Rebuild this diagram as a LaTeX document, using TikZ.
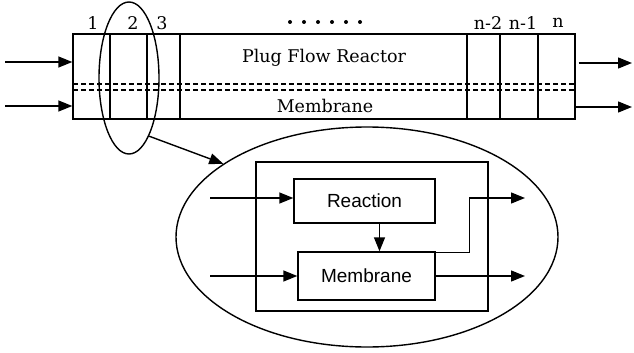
\documentclass[tikz,border=0pt]{standalone}
\usepackage{fontspec}
\setmainfont{DejaVu Serif}
\newfontfamily\arialf{Liberation Sans}
\usetikzlibrary{arrows.meta,shapes.geometric}
\begin{document}
\begin{tikzpicture}[x=1pt,y=-1pt, line width=1.4pt,
 arr/.style={-{Triangle[length=14pt,width=11pt]}},
 lab/.style={font=\fontsize{17.5}{17.5}\selectfont, inner sep=0pt},
 blk/.style={draw, font=\arialf\fontsize{19}{19}\selectfont, inner sep=0pt},
 memline/.style={dash pattern=on 5pt off 3pt, line width=1.5pt}]
\useasboundingbox (0,0) rectangle (634,353);
% plug flow reactor
\node[draw, minimum width=502pt, minimum height=85pt, inner sep=0pt] (pfr) at (324,76.5) {};
\foreach \xx in {110,147,180,467,500,538} \draw (\xx,34) -- (\xx,119);
\draw[memline] (73,84) -- (575,84);
\draw[memline] (73,90) -- (575,90);
\node[lab] (t1) at (93,23) {1};
\node[lab] (t2) at (133,23) {2};
\node[lab] (t3) at (162,23) {3};
\node[lab] (tn2) at (488,23) {n-2};
\node[lab] (tn1) at (523,23) {n-1};
\node[lab] (tn) at (558,23) {n};
\foreach \xx in {290,304,318,332,346,360} \fill (\xx,22) circle (2pt);
\node[lab] (pfrlab) at (324,58) {Plug Flow Reactor};
\node[lab] (memlab) at (325,106) {Membrane};
% in/out arrows
\coordinate (in1) at (5,62);
\coordinate (in2) at (5,106);
\coordinate (out1) at (632,63);
\coordinate (out2) at (632,107);
\draw[arr] (in1) -- (pfr.west |- in1);
\draw[arr] (in2) -- (pfr.west |- in2);
\draw[arr] ([xshift=3pt]pfr.east |- out1) -- (out1);
\draw[arr] (pfr.east |- out2) -- (out2);
% small ellipse
\node[draw, ellipse, minimum width=60pt, minimum height=152pt, inner sep=0pt] (small) at (129,78) {};
% big ellipse
\node[draw, ellipse, minimum width=382pt, minimum height=220pt, inner sep=0pt] (big) at (367,237) {};
\draw[arr] (small.-71) -- (big.153);
% inner
\node[draw, minimum width=232pt, minimum height=149pt, inner sep=0pt] (inner) at (372,236.5) {};
\node[blk, minimum width=141pt, minimum height=44pt] (react) at (364.5,201) {Reaction};
\node[blk, minimum width=137pt, minimum height=48pt] (memb) at (366.5,276) {Membrane};
\coordinate (i1) at (210,198);
\coordinate (i2) at (210,276);
\coordinate (o1) at (525,198);
\draw[arr] (i1) -- (react.west |- i1);
\draw[arr] (i2) -- (memb.west |- i2);
\draw[arr] ([xshift=15pt]react.south) -- ([xshift=15pt]react.south |- memb.north);
\draw[arr] ([yshift=-1pt]memb.north east) -- ++(34,0) |- (o1);
\draw[arr] (memb.east) -- (memb.east -| o1);
\end{tikzpicture}
\end{document}
